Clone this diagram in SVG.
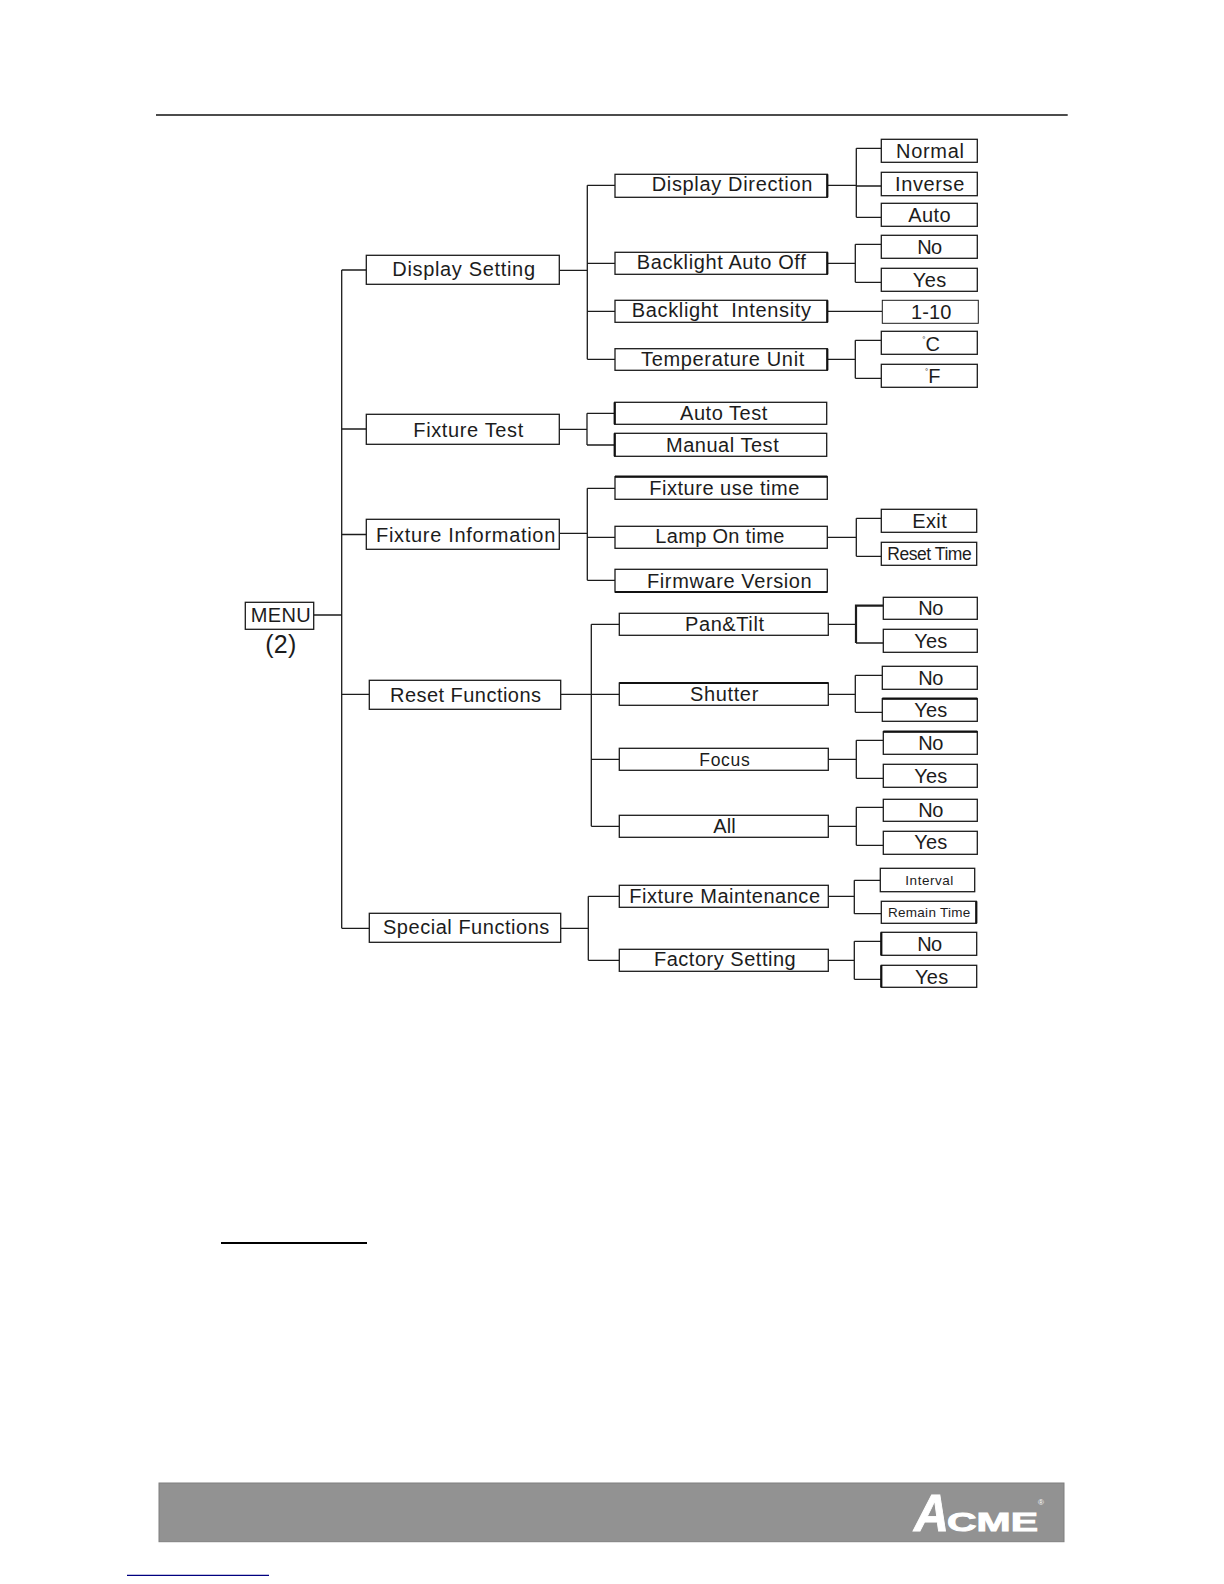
<svg xmlns="http://www.w3.org/2000/svg" width="1224" height="1584" viewBox="0 0 1224 1584">
<style>
text{font-family:"Liberation Sans",Arial,sans-serif;font-size:20px;fill:#1c1c1c}
.b{fill:#fff;stroke:#1c1c1c;stroke-width:1.3}
.s{font-size:17.5px}
.t{font-size:13.5px}
.e{fill:none;stroke:#111;stroke-width:2.2}
#connectors path{fill:none;stroke:#1c1c1c;stroke-width:1.3}
#logo text{fill:#fff;font-weight:bold;stroke:#fff;stroke-width:.9}
</style>
<rect width="1224" height="1584" fill="#fff"/>
<path d="M156 115H1067.7" stroke="#111" stroke-width="1.4" fill="none"/>
<path d="M221 1243H367" stroke="#000" stroke-width="2.2" fill="none"/>
<g id="connectors">
<path d="M313.7 615H342M341.7 270V928.3M341.7 270H366.3M341.7 429H366.3M341.7 534.5H366.3M341.7 694.3H369.3M341.7 928.3H369.3"/>
<path d="M559.3 270.3H587.3M587.3 185.3V359.3M587.3 185.3H615M587.3 263.3H615M587.3 311.3H615M587.3 359.3H615"/>
<path d="M827.3 185.3H856.3M856.3 148.3V217.3M856.3 148.3H881.3M856.3 186H881.3M856.3 217.3H881.3"/>
<path d="M827.3 263.3H855.3M855.3 244.3V282.3M855.3 244.3H881.3M855.3 282.3H881.3"/>
<path d="M827.3 311.3H882.3"/>
<path d="M827.3 359.3H855.3M855.3 340.3V378.3M855.3 340.3H881.3M855.3 378.3H881.3"/>
<path d="M559.3 429.3H587M587 413.3V445M587 413.3H614.7M587 445H614.7"/>
<path d="M559.3 533.3H587.3M587.3 488.3V580.3M587.3 488.3H615M587.3 537.3H615M587.3 580.3H615"/>
<path d="M827.3 537.3H856.3M856.3 518.3V556.3M856.3 518.3H881.3M856.3 556.3H881.3"/>
<path d="M560.7 694.3H619.3M591.3 624.3V826.3M591.3 624.3H619.3M591.3 759.3H619.3M591.3 826.3H619.3"/>
<path d="M828.3 624.3H856M856 643H883.3"/>
<path d="M856 643V605.7H883.3" style="stroke-width:2.2"/>
<path d="M828.3 694.3H855.3M855.3 675.3V712.3M855.3 675.3H882.3M855.3 712.3H882.3"/>
<path d="M828.3 759.3H856.3M856.3 740.3V778.3M856.3 740.3H883.3M856.3 778.3H883.3"/>
<path d="M828.3 826.3H856.3M856.3 807.3V845.3M856.3 807.3H883.3M856.3 845.3H883.3"/>
<path d="M560.7 928.3H588.3M588.3 896.3V960.3M588.3 896.3H619.3M588.3 960.3H619.3"/>
<path d="M828.3 896.3H854.3M854.3 880.3V913.7M854.3 880.3H880.3M854.3 913.7H881.3"/>
<path d="M828.3 960.3H854.3M854.3 941.3V979.3M854.3 941.3H881.3M854.3 979.3H881.3"/>
</g>
<g id="n-menu"><rect class="b" x="245.3" y="602.3" width="68.4" height="27"/><text x="250.7" y="622.3" textLength="60">MENU</text></g>
<g id="n-menu-note"><text x="265.3" y="653.3" textLength="31" style="font-size:25px">(2)</text></g>
<g id="n-display-setting"><rect class="b" x="366.3" y="255.3" width="193" height="29"/><text x="392.3" y="275.7" textLength="142.7">Display Setting</text></g>
<g id="n-fixture-test"><rect class="b" x="366.3" y="414.3" width="193" height="30"/><text x="413.3" y="436.7" textLength="110">Fixture Test</text></g>
<g id="n-fixture-information"><rect class="b" x="366.3" y="519.3" width="193" height="30"/><text x="376" y="541.7" textLength="179.3">Fixture Information</text></g>
<g id="n-reset-functions"><rect class="b" x="369.3" y="680.3" width="191.4" height="29"/><text x="390" y="701.7" textLength="151">Reset Functions</text></g>
<g id="n-special-functions"><rect class="b" x="369.3" y="913.3" width="191.4" height="29"/><text x="383" y="933.7" textLength="166.3">Special Functions</text></g>
<g id="n-display-direction"><rect class="b" x="615" y="174.3" width="212.3" height="23"/><path class="e" d="M827.3 174.3V197.3"/><text x="651.7" y="191.3" textLength="160.6">Display Direction</text></g>
<g id="n-backlight-auto-off"><rect class="b" x="615" y="252.3" width="212.3" height="22"/><path class="e" d="M827.3 252.3V274.3"/><text x="636.7" y="269" textLength="169">Backlight Auto Off</text></g>
<g id="n-backlight-intensity"><rect class="b" x="615" y="300.3" width="212.3" height="22"/><path class="e" d="M827.3 300.3V322.3"/><text x="631.7" y="317" textLength="179.3">Backlight&#160; Intensity</text></g>
<g id="n-temperature-unit"><rect class="b" x="615" y="348.7" width="212.3" height="21.6"/><path class="e" d="M827.3 348.7V370.3"/><text x="641" y="365.7" textLength="163.3">Temperature Unit</text></g>
<g id="n-normal"><rect class="b" x="881.3" y="139.3" width="96" height="23"/><text x="896" y="158" textLength="68">Normal</text></g>
<g id="n-inverse"><rect class="b" x="881.3" y="172.3" width="96" height="23.4"/><text x="895" y="191" textLength="69.3">Inverse</text></g>
<g id="n-auto"><rect class="b" x="881.3" y="203.3" width="96" height="23"/><text x="908.3" y="222" textLength="42.4">Auto</text></g>
<g id="n-backlight-no"><rect class="b" x="881.3" y="235.3" width="96" height="23"/><text x="917.3" y="254.3" textLength="24.7">No</text></g>
<g id="n-backlight-yes"><rect class="b" x="881.3" y="268.3" width="96" height="23"/><text x="912.7" y="287" textLength="33.6">Yes</text></g>
<g id="n-range"><rect class="b" x="882.3" y="300.3" width="96" height="23" style="stroke-width:1"/><text x="911" y="319" textLength="40.3">1-10</text></g>
<g id="n-celsius"><rect class="b" x="881.3" y="331.3" width="96" height="23"/><text x="922.3" y="350.7"><tspan style="font-size:8px" dy="-9">°</tspan><tspan dy="9">C</tspan></text></g>
<g id="n-fahrenheit"><rect class="b" x="881.3" y="364.3" width="96" height="23"/><text x="925" y="383.3"><tspan style="font-size:8px" dy="-9">°</tspan><tspan dy="9">F</tspan></text></g>
<g id="n-auto-test"><rect class="b" x="614.7" y="402.3" width="212" height="22"/><path class="e" d="M614.7 402.3V424.3"/><text x="680" y="420.3" textLength="87.3">Auto Test</text></g>
<g id="n-manual-test"><rect class="b" x="614.7" y="433.3" width="212" height="23"/><path class="e" d="M614.7 433.3V456.3"/><text x="666" y="451.7" textLength="112.7">Manual Test</text></g>
<g id="n-fixture-use-time"><rect class="b" x="615" y="476.7" width="212.3" height="22.6"/><path class="e" d="M615 476.7H827.3"/><text x="649.3" y="495" textLength="150">Fixture use time</text></g>
<g id="n-lamp-on-time"><rect class="b" x="615" y="526.3" width="212.3" height="22"/><text x="655.3" y="543" textLength="129">Lamp On time</text></g>
<g id="n-firmware-version"><rect class="b" x="615" y="569.3" width="212.3" height="22.7"/><path class="e" d="M615 592H827.3"/><text x="647" y="587.7" textLength="164.7">Firmware Version</text></g>
<g id="n-exit"><rect class="b" x="881.3" y="509.3" width="95.4" height="23"/><text x="912.3" y="528" textLength="34.4">Exit</text></g>
<g id="n-reset-time"><rect class="b" x="881.3" y="542.3" width="95.4" height="23"/><text class="s" x="887.3" y="560" textLength="84.4">Reset Time</text></g>
<g id="n-pan-tilt"><rect class="b" x="619.3" y="613.3" width="209" height="22"/><text x="685" y="631.3" textLength="79">Pan&amp;Tilt</text></g>
<g id="n-shutter"><rect class="b" x="619.3" y="683" width="209" height="22.3"/><path class="e" d="M619.3 683H828.3"/><text x="690" y="701" textLength="68.3">Shutter</text></g>
<g id="n-focus"><rect class="b" x="619.3" y="748.3" width="209" height="22"/><text class="s" x="699.3" y="766" textLength="50.4">Focus</text></g>
<g id="n-all"><rect class="b" x="619.3" y="815.3" width="209" height="22"/><text x="713.3" y="833" textLength="22.4">All</text></g>
<g id="n-pan-no"><rect class="b" x="883.3" y="597.3" width="94" height="22"/><text x="918.3" y="615.3" textLength="25">No</text></g>
<g id="n-pan-yes"><rect class="b" x="883.3" y="629.3" width="94" height="23"/><text x="914.3" y="648" textLength="33">Yes</text></g>
<g id="n-shutter-no"><rect class="b" x="882.3" y="666.3" width="95" height="23"/><text x="918.3" y="684.7" textLength="25">No</text></g>
<g id="n-shutter-yes"><rect class="b" x="882.3" y="698.7" width="95" height="22.6"/><path class="e" d="M882.3 698.7H977.3"/><text x="914.3" y="717" textLength="33">Yes</text></g>
<g id="n-focus-no"><rect class="b" x="883.3" y="731.7" width="94" height="22.6"/><path class="e" d="M883.3 731.7H977.3"/><text x="918.3" y="750" textLength="25">No</text></g>
<g id="n-focus-yes"><rect class="b" x="883.3" y="764.3" width="94" height="23"/><text x="914.3" y="782.7" textLength="33">Yes</text></g>
<g id="n-all-no"><rect class="b" x="883.3" y="799.3" width="94" height="22"/><text x="918.3" y="817.3" textLength="25">No</text></g>
<g id="n-all-yes"><rect class="b" x="883.3" y="831.3" width="94" height="23"/><text x="914.3" y="849.3" textLength="33">Yes</text></g>
<g id="n-fixture-maintenance"><rect class="b" x="619.3" y="885.3" width="209" height="22"/><text x="629.3" y="902.7" textLength="190.7">Fixture Maintenance</text></g>
<g id="n-factory-setting"><rect class="b" x="619.3" y="949.3" width="209" height="22"/><text x="654" y="965.7" textLength="141.7">Factory Setting</text></g>
<g id="n-interval"><rect class="b" x="880.3" y="868.3" width="94.4" height="23.4"/><text class="t" x="905.3" y="885.3" textLength="48">Interval</text></g>
<g id="n-remain-time"><rect class="b" x="881.3" y="901.3" width="95" height="22"/><path class="e" d="M976.3 901.3V923.3"/><text class="t" x="888" y="917.3" textLength="82.3">Remain Time</text></g>
<g id="n-factory-no"><rect class="b" x="881.3" y="932.3" width="95.4" height="23"/><path class="e" d="M881.3 932.3V955.3"/><text x="917.3" y="951" textLength="24.7">No</text></g>
<g id="n-factory-yes"><rect class="b" x="881.3" y="965.3" width="95.4" height="22"/><path class="e" d="M881.3 965.3V987.3"/><text x="915" y="983.7" textLength="33.3">Yes</text></g>
<rect x="159" y="1483" width="905" height="58.7" fill="#929292" stroke="#7f7f7f" stroke-width="1"/>
<g id="logo">
<text x="914" y="1531" textLength="35" lengthAdjust="spacingAndGlyphs" style="font-size:52px;font-style:italic">A</text>
<text x="947" y="1531" textLength="91" lengthAdjust="spacingAndGlyphs" style="font-size:26px">CME</text>
<text x="1038" y="1505" style="font-size:8px;stroke-width:0;font-weight:normal">®</text>
</g>
<path d="M127 1575.3H269" stroke="#000080" stroke-width="1.2" fill="none"/>
</svg>
